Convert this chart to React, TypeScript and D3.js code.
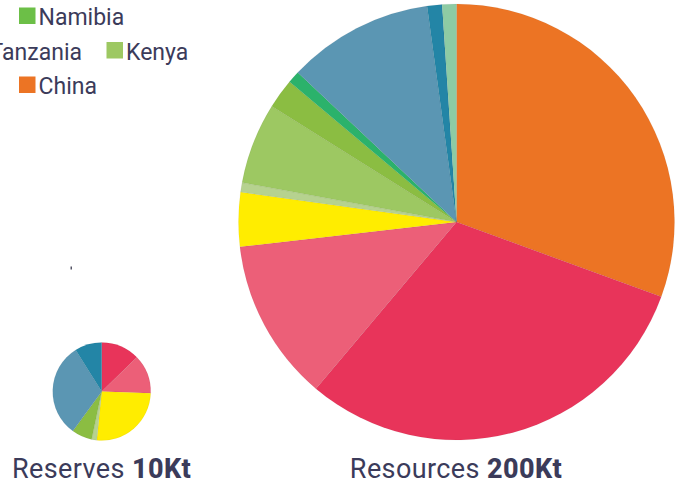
import React, { useEffect, useRef } from "react";
import * as d3 from "d3";

// categories in drawing order (clockwise from 12 o'clock)
const categories = [
  "China",
  "Australia",
  "Brazil",
  "Canada",
  "Tanzania",
  "Kenya",
  "Mozambique",
  "Namibia",
  "USA",
  "Russia",
  "Other",
];
const colors = [
  "#EC7424",
  "#E8345A",
  "#EC5F78",
  "#FFED00",
  "#B6D28F",
  "#9DC862",
  "#8BBD42",
  "#2BB26B",
  "#5B96B3",
  "#2385A6",
  "#8DCBA4",
];

// Kt
const reserves = [0, 1.27, 1.28, 2.6, 0.17, 0, 0.67, 0, 3.1, 0.89, 0];
const resources = [61, 61, 24, 8, 1.4, 12, 4.4, 1.8, 21.6, 2.2, 2.1];

const legendItems = [
  { name: "Namibia", color: "#6CBF47" },
  { name: "Tanzania", color: "#B6D28F" },
  { name: "Kenya", color: "#9DC862" },
  { name: "China", color: "#EC7424" },
];

const W = 685;
const H = 486;
const textColor = "#3b3b5a";

function App() {
  const svgRef: any = useRef(null);

  useEffect(() => {
    draw();
  }, []);

  const draw = () => {
    const svg = d3.select(svgRef.current);
    svg.selectAll("*").remove();

    const pie = d3
      .pie<number>()
      .sort(null)
      .value((d) => d);

    const drawPie = (values: number[], cx: number, cy: number, r: number) => {
      const arc = d3.arc<any>().innerRadius(0).outerRadius(r);
      const g = svg.append("g").attr("transform", `translate(${cx},${cy})`);
      g.selectAll("path")
        .data(pie(values))
        .enter()
        .filter((d: any) => d.value > 0)
        .append("path")
        .attr("d", arc as any)
        .attr("fill", (d: any) => colors[d.index])
        .attr("stroke", "rgba(0,0,0,0.08)")
        .attr("stroke-width", 0.5);
    };

    drawPie(resources, 456.5, 222, 218);
    drawPie(reserves, 101.7, 391.5, 49);

    // stray mark
    svg
      .append("rect")
      .attr("x", 70.5)
      .attr("y", 266.5)
      .attr("width", 1.5)
      .attr("height", 3)
      .attr("fill", "#555566");

    // legend
    const legendPos = [
      { x: 19, y: 25, anchor: "start" },
      { x: 82, y: 59.5, anchor: "end" },
      { x: 106.5, y: 59.5, anchor: "start" },
      { x: 19, y: 94, anchor: "start" },
    ];
    const lg = svg.append("g").attr("font-family", "Roboto, sans-serif");
    legendItems.forEach((item, i) => {
      const p = legendPos[i];
      const sqX = p.anchor === "end" ? p.x - 108 : p.x;
      lg.append("rect")
        .attr("x", sqX)
        .attr("y", p.y - 17.5)
        .attr("width", 16.5)
        .attr("height", 16.5)
        .attr("fill", item.color);
      lg.append("text")
        .attr("x", p.anchor === "end" ? p.x : p.x + 19.5)
        .attr("y", p.y)
        .attr("text-anchor", p.anchor)
        .attr("font-size", 23)
        .attr("fill", textColor)
        .text(item.name);
    });

    // captions
    const captions = [
      { label: "Reserves ", total: "10Kt", x: 101.5 },
      { label: "Resources ", total: "200Kt", x: 456 },
    ];
    captions.forEach((c) => {
      const t = svg
        .append("text")
        .attr("x", c.x)
        .attr("y", 478)
        .attr("text-anchor", "middle")
        .attr("font-family", "Roboto, sans-serif")
        .attr("font-size", 27)
        .attr("letter-spacing", 0.4)
        .attr("fill", textColor);
      t.append("tspan").text(c.label);
      t.append("tspan").attr("font-weight", 800).text(c.total);
    });
  };

  return (
    <svg
      ref={svgRef}
      width={W}
      height={H}
      style={{ position: "absolute", left: 0, top: 0, display: "block", background: "#fff" }}
    />
  );
}

export default App;
